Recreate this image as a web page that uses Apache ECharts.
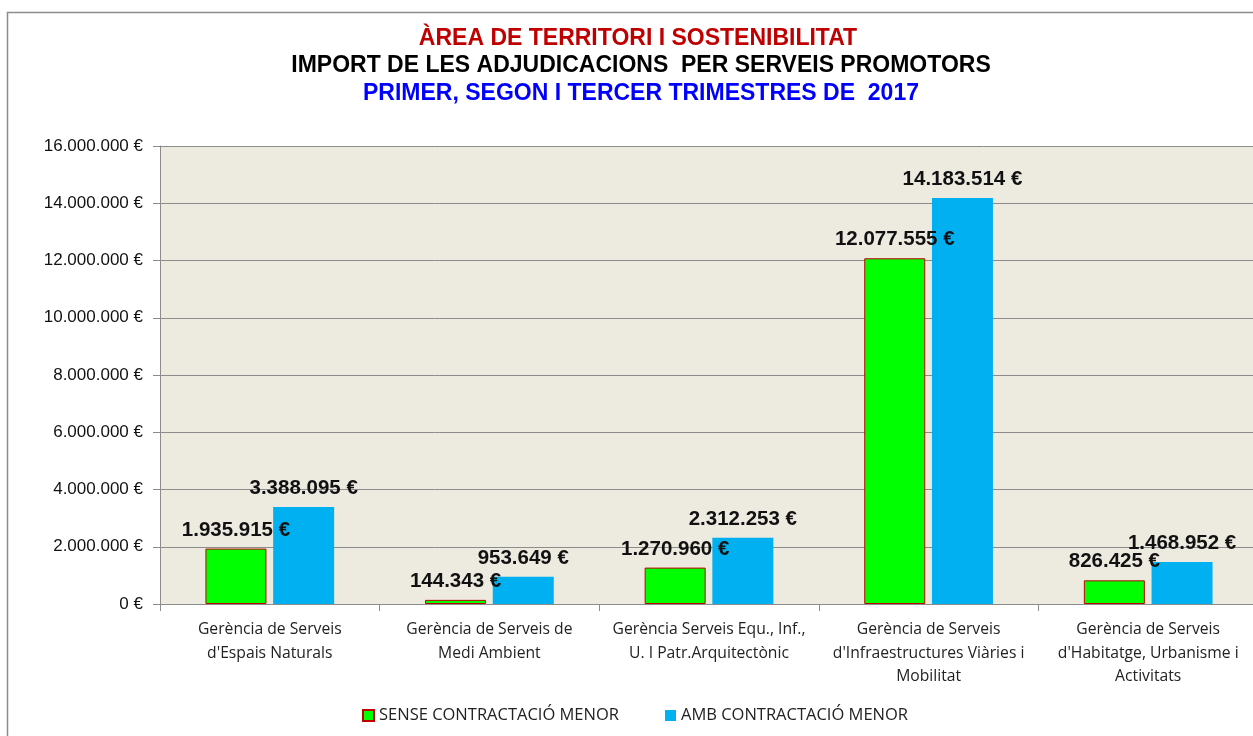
<!DOCTYPE html>
<html style="height: 100%">
<head>
	<meta charset="utf-8">
	<script type="text/javascript" src="https://cdn.jsdelivr.net/npm/echarts@6/dist/echarts.min.js"></script>
	<style>
	body { margin: 0; background: #fff; overflow: hidden; }
	#container { width: 1262px; height: 736px; }
	</style>
</head>
<body>
	<div id="container"></div>
	<script>
	// categories
	var categories = [
		"Gerència de Serveis\nd'Espais Naturals",
		"Gerència de Serveis de\nMedi Ambient",
		"Gerència Serveis Equ., Inf.,\nU. I Patr.Arquitectònic",
		"Gerència de Serveis\nd'Infraestructures Viàries i\nMobilitat",
		"Gerència de Serveis\nd'Habitatge, Urbanisme i\nActivitats"
	];
	var seriesNames = ['SENSE CONTRACTACIÓ MENOR', 'AMB CONTRACTACIÓ MENOR'];
	var senseMenor = [1935915, 144343, 1270960, 12077555, 826425];
	var ambMenor = [3388095, 953649, 2312253, 14183514, 1468952];
	var yTicks = [0, 2000000, 4000000, 6000000, 8000000, 10000000, 12000000, 14000000, 16000000];

	function fmt(v) {
		return String(v).replace(/\B(?=(\d{3})+(?!\d))/g, '.');
	}

	var myChart = echarts.init(document.getElementById('container'));
	var titleFont = {fontFamily: 'Liberation Sans', fontWeight: 'bold', fontSize: 23};
	var labelStyle = {show: true, position: 'top', distance: 8,
		fontFamily: 'Liberation Sans', fontWeight: 'bold', fontSize: 20.5, color: '#111',
		formatter: function (p) { return fmt(p.value) + ' €'; }};
	var option = {
		animation: false,
		title: [
			{text: 'ÀREA DE TERRITORI I SOSTENIBILITAT', left: 633, top: 22, textAlign: 'center',
			 textStyle: Object.assign({color: '#c00000'}, titleFont)},
			{text: 'IMPORT DE LES ADJUDICACIONS  PER SERVEIS PROMOTORS', left: 636, top: 49, textAlign: 'center',
			 textStyle: Object.assign({color: '#000000'}, titleFont)},
			{text: 'PRIMER, SEGON I TERCER TRIMESTRES DE  2017', left: 636, top: 77, textAlign: 'center',
			 textStyle: Object.assign({color: '#0000ff'}, titleFont)}
		],
		graphic: [{
			type: 'rect',
			shape: {x: 7.5, y: 12.5, width: 1270, height: 740},
			style: {fill: 'none', stroke: '#8c8c8c', lineWidth: 1.5},
			silent: true
		}],
		legend: {
			bottom: 7,
			left: 357,
			itemWidth: 11,
			itemHeight: 11,
			itemGap: 46,
			icon: 'rect',
			textStyle: {fontFamily: 'Open Sans', fontSize: 16.5, color: '#222'},
			data: seriesNames
		},
		grid: {left: 160, right: 4, top: 146, bottom: 132, containLabel: false,
			show: true, backgroundColor: '#edeae0', borderWidth: 0},
		xAxis: {
			type: 'category',
			data: categories,
			axisLine: {lineStyle: {color: '#8c8c8c'}},
			axisTick: {show: true, length: 7, lineStyle: {color: '#8c8c8c'}},
			axisLabel: {fontFamily: 'Open Sans', fontSize: 15.7, color: '#222', lineHeight: 23.5, margin: 14, interval: 0}
		},
		yAxis: {
			type: 'value',
			min: yTicks[0],
			max: yTicks[yTicks.length - 1],
			interval: 2000000,
			axisLine: {show: true, lineStyle: {color: '#8c8c8c'}},
			axisTick: {show: true, length: 7, lineStyle: {color: '#8c8c8c'}},
			splitLine: {lineStyle: {color: '#8c8c8c'}},
			axisLabel: {fontFamily: 'Liberation Sans', fontSize: 17, color: '#111', margin: 17,
				formatter: function (v) { return fmt(v) + ' €'; }}
		},
		series: [
			{
				name: seriesNames[0],
				type: 'bar',
				data: senseMenor,
				barWidth: 61,
				barGap: '11%',
				itemStyle: {color: '#00ff00', borderColor: '#c00000', borderWidth: 1},
				label: labelStyle
			},
			{
				name: seriesNames[1],
				type: 'bar',
				data: ambMenor,
				barWidth: 61,
				itemStyle: {color: '#00b0f0'},
				label: labelStyle
			}
		]
	};
	myChart.setOption(option);
	</script>
</body>
</html>
